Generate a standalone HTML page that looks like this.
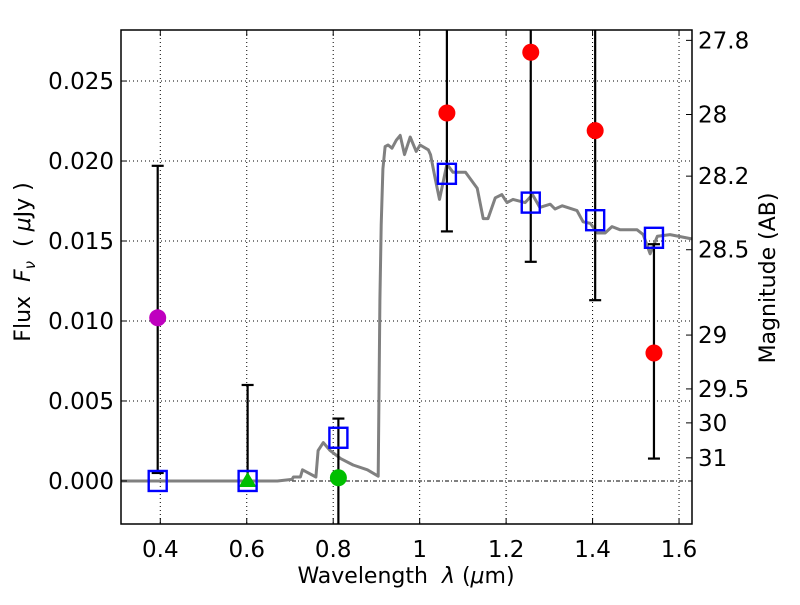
<!DOCTYPE html>
<html><head><meta charset="utf-8"><style>
body{margin:0;background:#fff;}
svg text{font-family:"DejaVu Sans","Liberation Sans",sans-serif;fill:#000;}
</style></head><body>
<svg id="chart" width="800" height="600" xmlns="http://www.w3.org/2000/svg"></svg>
<script>
const xTicks=[0.4,0.6,0.8,1.0,1.2,1.4,1.6];
const xTickLabels=["0.4","0.6","0.8","1","1.2","1.4","1.6"];
const yTicks=[0,0.005,0.010,0.015,0.020,0.025];
const yTickLabels=["0.000","0.005","0.010","0.015","0.020","0.025"];
const magTicks=[27.8,28,28.2,28.5,29,29.5,30,31];
const magTickLabels=["27.8","28","28.2","28.5","29","29.5","30","31"];
const sedLambda=[0.30,0.671,0.705,0.708,0.724,0.729,0.736,0.760,0.765,0.777,0.793,0.817,0.846,0.879,0.904,0.908,0.911,0.915,0.920,0.927,0.936,0.946,0.955,0.965,0.978,0.992,1.001,1.020,1.025,1.036,1.046,1.063,1.077,1.106,1.133,1.147,1.158,1.175,1.190,1.202,1.216,1.244,1.261,1.278,1.302,1.313,1.330,1.364,1.378,1.395,1.411,1.429,1.445,1.464,1.503,1.517,1.533,1.550,1.579,1.635];
const sedFlux=[0,0,0.0001,0.00025,0.00025,0.0007,0.0006,0.00025,0.0019,0.0024,0.0019,0.0014,0.0010,0.0007,0.0003,0.0113,0.0160,0.0195,0.0209,0.0210,0.0208,0.0213,0.0216,0.0204,0.0215,0.0206,0.0210,0.0207,0.0204,0.0189,0.0176,0.0198,0.0193,0.0193,0.0183,0.0164,0.0164,0.0177,0.0179,0.0174,0.0176,0.0174,0.0179,0.0171,0.0173,0.0170,0.0172,0.0169,0.0162,0.0161,0.0155,0.0155,0.0159,0.0157,0.0157,0.0154,0.0142,0.0153,0.0154,0.0151];
const modelLambda=[0.394,0.602,0.812,1.063,1.257,1.406,1.542];
const modelFlux=[0,0,0.0027,0.0192,0.0174,0.0163,0.0152];
const obsLambda=[1.063,1.257,1.406,1.542];
const obsFlux=[0.0230,0.0268,0.0219,0.0080];
const errLambda=[0.394,0.602,0.812,1.063,1.257,1.406,1.542];
const errLo=[0.0005,0,-0.003,0.0156,0.0137,0.0113,0.0014];
const errHi=[0.0197,0.0060,0.0039,0.03,0.03,0.03,0.0148];
const errLoCap=[true,false,false,true,true,true,true];
const errHiCap=[true,true,true,false,false,false,true];

const S=document.getElementById('chart');const NS='http://www.w3.org/2000/svg';
function mk(t,a,p){const e=document.createElementNS(NS,t);for(const k in a)e.setAttribute(k,a[k]);(p||S).appendChild(e);return e;}
const L=121,R=692,T=30,B=524;
const X0=0.3091,X1=1.6300,Y0=-0.00269,Y1=0.02819;
const xs=v=>L+(v-X0)/(X1-X0)*(R-L);
const ys=v=>B-(v-Y0)/(Y1-Y0)*(B-T);
const magToFlux=m=>Math.pow(10,-0.4*(m-23.9));
mk('defs',{}).innerHTML='<clipPath id="cp"><rect x="121" y="30" width="571" height="494"/></clipPath>';
xTicks.forEach(v=>{const g=mk('line',{x1:xs(v),x2:xs(v),y1:T,y2:B,stroke:'#000','stroke-width':1,'stroke-dasharray':'1,3'});
});
yTicks.forEach(v=>{const g=mk('line',{x1:L,x2:R,y1:ys(v),y2:ys(v),stroke:'#000','stroke-width':1,'stroke-dasharray':v===0?'4,2,1,2':'1,3'});
});
const plot=mk('g',{'clip-path':'url(#cp)'});

let d=sedLambda.map((l,i)=>(i?'L':'M')+xs(l).toFixed(1)+','+ys(sedFlux[i]).toFixed(1)).join('');
const sed=mk('path',{d:d,fill:'none',stroke:'#808080','stroke-width':3,'stroke-linejoin':'round'},plot);

errLambda.forEach((l,i)=>{const x=xs(l);const g=mk('g',{},plot);

mk('line',{x1:x,x2:x,y1:ys(errLo[i]),y2:ys(errHi[i]),stroke:'#000','stroke-width':2.2},g);
if(errLoCap[i])mk('line',{x1:x-6,x2:x+6,y1:ys(errLo[i]),y2:ys(errLo[i]),stroke:'#000','stroke-width':2.2},g);
if(errHiCap[i])mk('line',{x1:x-6,x2:x+6,y1:ys(errHi[i]),y2:ys(errHi[i]),stroke:'#000','stroke-width':2.2},g);});
const mg=mk('circle',{cx:xs(0.394),cy:ys(0.0102),r:8.5,fill:'#bf00bf'},plot);

const gc=mk('circle',{cx:xs(0.812),cy:ys(0.0002),r:8.5,fill:'#00bf00'},plot);

const tx=xs(0.602),ty=ys(0.0);
const gt=mk('polygon',{points:`${tx},${ty-9} ${tx-9},${ty+6} ${tx+9},${ty+6}`,fill:'#00bf00'},plot);

modelLambda.forEach((l,i)=>{const r=mk('rect',{x:xs(l)-9,y:ys(modelFlux[i])-10,width:18,height:20,fill:'none',stroke:'#0000ff','stroke-width':2.4},plot);
});
obsLambda.forEach((l,i)=>{const c=mk('circle',{cx:xs(l),cy:ys(obsFlux[i]),r:8.5,fill:'#ff0000'},plot);
});
const fr=mk('rect',{x:L,y:T,width:R-L,height:B-T,fill:'none',stroke:'#000','stroke-width':1.5});

xTicks.forEach((v,i)=>{const x=xs(v);
mk('line',{x1:x,x2:x,y1:B,y2:B-6,stroke:'#000'});mk('line',{x1:x,x2:x,y1:T,y2:T+6,stroke:'#000'});
const t=mk('text',{x:x,y:B+33,'text-anchor':'middle','font-size':23});t.textContent=xTickLabels[i];
});
yTicks.forEach((v,i)=>{const y=ys(v);
mk('line',{x1:L,x2:L+6,y1:y,y2:y,stroke:'#000'});
const t=mk('text',{x:L-7,y:y+8,'text-anchor':'end','font-size':23});t.textContent=yTickLabels[i];
});
magTicks.forEach((m,i)=>{const y=ys(magToFlux(m));
mk('line',{x1:R-6,x2:R,y1:y,y2:y,stroke:'#000'});
const t=mk('text',{x:R+6,y:y+8,'font-size':23});t.textContent=magTickLabels[i];
});
const xt=mk('text',{x:406,y:583,'text-anchor':'middle','font-size':22});
xt.innerHTML='Wavelength &#160;<tspan font-style="italic">λ</tspan> (<tspan font-style="italic">μ</tspan>m)';

const yt=mk('text',{x:0,y:0,transform:'translate(30,262) rotate(-90)','text-anchor':'middle','font-size':22});
yt.innerHTML='Flux &#160;<tspan font-style="italic">F</tspan><tspan font-style="italic" font-size="15" dy="5">ν</tspan><tspan dy="-5"> &#160;( </tspan><tspan font-style="italic">μ</tspan>Jy )';

const rt=mk('text',{x:0,y:0,transform:'translate(775,278) rotate(-90)','text-anchor':'middle','font-size':22});
rt.textContent='Magnitude (AB)';

</script>
</body></html>
